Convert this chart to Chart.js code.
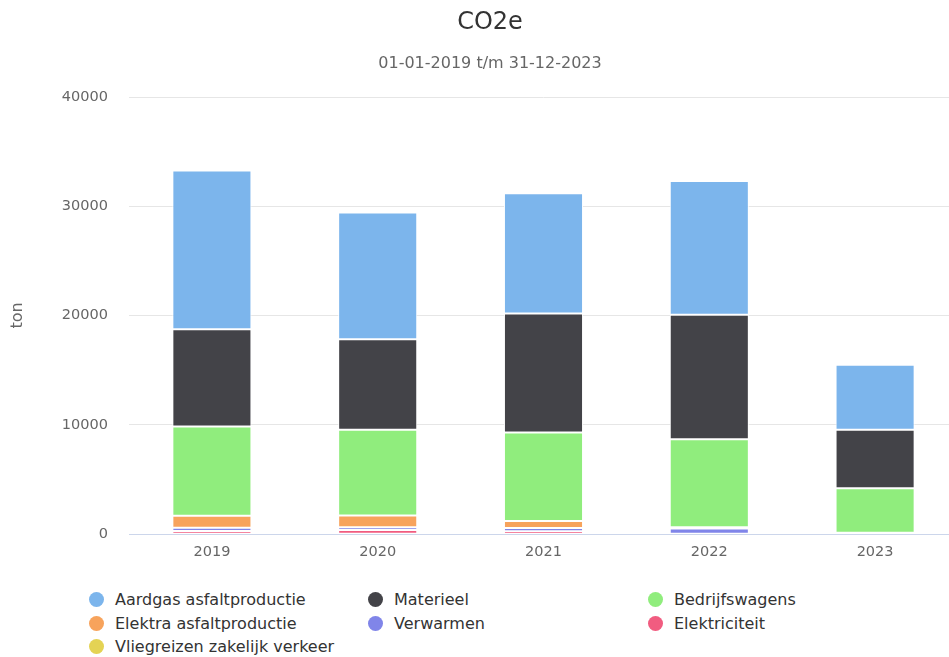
<!DOCTYPE html>
<html>
<head>
<meta charset="utf-8">
<script src="https://cdn.jsdelivr.net/npm/chart.js@4/dist/chart.umd.min.js"></script>
<style>
  body { margin: 0; background: #fff; font-family: "DejaVu Sans", sans-serif; overflow: hidden; }
  #wrap { position: relative; width: 949px; height: 657px; overflow: hidden; }
  #grafiek { position: absolute; left: 0; top: 0; }
  #legenda {
    position: absolute; left: 89px; top: 588px;
    display: grid; grid-template-columns: 279px 280px 280px; grid-auto-rows: 23.5px;
    font-size: 16px; color: #333;
  }
  .item { display: flex; align-items: center; white-space: nowrap; }
  .bol { width: 15px; height: 15px; border-radius: 50%; margin-right: 11px; flex: none; }
</style>
</head>
<body>
<div id="wrap">
  <canvas id="grafiek" width="980" height="580"></canvas>
  <div id="legenda"></div>
</div>
<script>
// Jaren en waarden per bron (ton CO2e)
const jaren = ['2019', '2020', '2021', '2022', '2023'];

const aardgas = [14550, 11600, 11000, 12250, 5950];
const materieel = [8900, 8300, 10900, 11400, 5350];
const bedrijfswagens = [8150, 7850, 8100, 8050, 4080];
const elektra = [1100, 1060, 650, 120, 0];
const verwarmen = [300, 260, 280, 480, 80];
const elektriciteit = [260, 350, 250, 0, 0];
const vliegreizen = [20, 15, 10, 20, 25];

const yTicks = [0, 10000, 20000, 30000, 40000];

// onderste reeks eerst (zo stapelt Chart.js ze)
const reeksen = [
  { label: 'Vliegreizen zakelijk verkeer', data: vliegreizen, kleur: '#e4d354' },
  { label: 'Elektriciteit', data: elektriciteit, kleur: '#f15c80' },
  { label: 'Verwarmen', data: verwarmen, kleur: '#8085e9' },
  { label: 'Elektra asfaltproductie', data: elektra, kleur: '#f7a35c' },
  { label: 'Bedrijfswagens', data: bedrijfswagens, kleur: '#90ed7d' },
  { label: 'Materieel', data: materieel, kleur: '#434348' },
  { label: 'Aardgas asfaltproductie', data: aardgas, kleur: '#7cb5ec' }
];

const ctx = document.getElementById('grafiek').getContext('2d');
const grafiek = new Chart(ctx, {
  type: 'bar',
  data: {
    labels: jaren,
    datasets: reeksen.map(r => ({
      label: r.label,
      data: r.data,
      backgroundColor: r.kleur,
      borderColor: '#ffffff',
      borderWidth: 1,
      borderSkipped: false,
      barPercentage: 0.477,
      categoryPercentage: 1
    }))
  },
  options: {
    responsive: false,
    animation: false,
    layout: { padding: 0 },
    plugins: {
      legend: { display: false },
      tooltip: { enabled: false },
      title: {
        display: true,
        text: 'CO2e',
        color: '#333333',
        font: { family: 'DejaVu Sans', size: 24, weight: 'normal' },
        padding: { top: 8, bottom: 8 }
      },
      subtitle: {
        display: true,
        text: '01-01-2019 t/m 31-12-2023',
        color: '#666666',
        font: { family: 'DejaVu Sans', size: 16 },
        padding: { top: 9.6, bottom: 23.4 }
      }
    },
    scales: {
      x: {
        stacked: true,
        grid: { display: false, drawTicks: false },
        border: { color: '#ccd6eb', width: 1 },
        ticks: { color: '#666666', font: { family: 'DejaVu Sans', size: 14.5 }, padding: 10 },
        afterFit: s => { s.height = 46; }
      },
      y: {
        stacked: true,
        min: 0,
        max: 40000,
        afterBuildTicks: s => { s.ticks = yTicks.map(v => ({ value: v })); },
        grid: { color: '#e6e6e6', drawTicks: false },
        border: { display: false },
        ticks: {
          color: '#666666',
          font: { family: 'DejaVu Sans', size: 14.5 },
          padding: 21,
          callback: v => String(v)
        },
        title: {
          display: true,
          text: 'ton',
          color: '#666666',
          font: { family: 'DejaVu Sans', size: 16 },
          padding: { top: 8, bottom: 0 }
        },
        afterFit: s => { s.width = 129; }
      },
      // lege as rechts, alleen voor de ruimte naast het plotgebied
      rechts: {
        type: 'linear',
        position: 'right',
        grid: { display: false, drawTicks: false },
        border: { display: false },
        ticks: { display: false },
        afterFit: s => { s.width = 22; }
      }
    }
  }
});

// legenda in drie kolommen, bovenste reeks eerst
const legenda = document.getElementById('legenda');
reeksen.slice().reverse().forEach(r => {
  const item = document.createElement('div');
  item.className = 'item';
  item.innerHTML = '<span class="bol" style="background:' + r.kleur + '"></span>' + r.label;
  legenda.appendChild(item);
});
</script>
</body>
</html>
